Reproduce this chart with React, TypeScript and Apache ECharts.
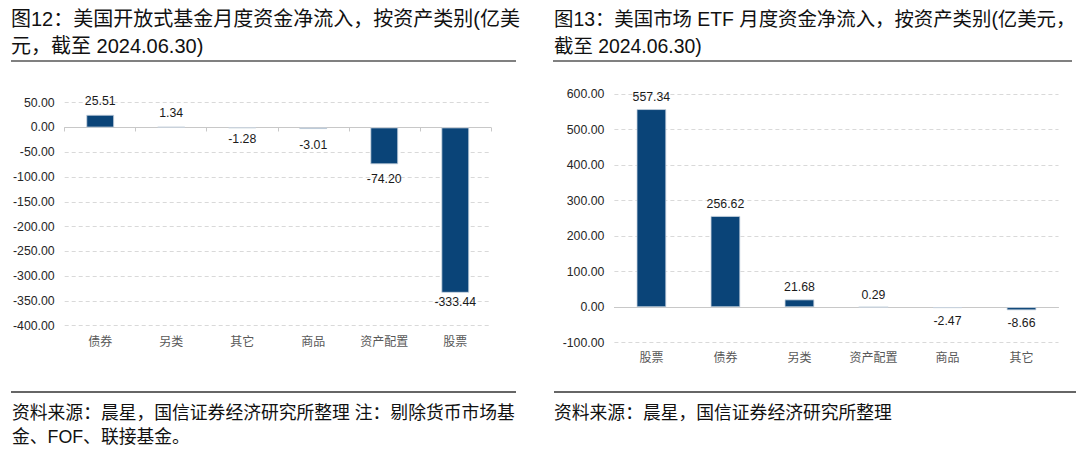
import React, { useEffect, useRef } from "react";
import * as echarts from "echarts";

// ---- Data ----
const leftCategories = ["债券", "另类", "其它", "商品", "资产配置", "股票"];
const leftValues = [25.51, 1.34, -1.28, -3.01, -74.2, -333.44];
const leftTicks = { min: -400, max: 50, interval: 50 };

const rightCategories = ["股票", "债券", "另类", "资产配置", "商品", "其它"];
const rightValues = [557.34, 256.62, 21.68, 0.29, -2.47, -8.66];
const rightTicks = { min: -100, max: 600, interval: 100 };

const leftTitle = ["图12：美国开放式基金月度资金净流入，按资产类别(亿美", "元，截至 2024.06.30)"];
const rightTitle = ["图13：美国市场 ETF 月度资金净流入，按资产类别(亿美元，", "截至 2024.06.30)"];
const leftSource = ["资料来源：晨星，国信证券经济研究所整理 注：剔除货币市场基", "金、FOF、联接基金。"];
const rightSource = ["资料来源：晨星，国信证券经济研究所整理"];

// label distances (style only)
const leftLabelDist = [8, 8, 5, 10, 9, 3];
const rightLabelDist = [6, 6, 6, 6, 7, 7];

const BAR = "#0a4478";
const LATIN_CJK = '"Liberation Sans", Arial, "Noto Sans CJK SC", sans-serif';

function buildSeriesData(values: number[], dists: number[]) {
  return values.map((v, i) => ({
    value: v,
    label: { position: v >= 0 ? "top" : "bottom", distance: dists[i] },
  }));
}

function yAxis(gridIndex: number, t: { min: number; max: number; interval: number }) {
  return {
    type: "value",
    gridIndex,
    min: t.min,
    max: t.max,
    interval: t.interval,
    axisLine: { show: false },
    axisTick: { show: false },
    axisLabel: {
      formatter: (v: number) => v.toFixed(2),
      fontSize: 12.3,
      fontFamily: LATIN_CJK,
      color: "#262626",
      margin: 10,
    },
    splitLine: { lineStyle: { color: "#d9d9d9", type: [4, 3], width: 1 } },
  };
}

function xAxes(gridIndex: number, cats: string[], margin: number, ticks: boolean) {
  return [
    {
      type: "category",
      gridIndex,
      data: cats,
      position: "bottom",
      axisLine: { show: false, onZero: false },
      axisTick: { show: false },
      axisLabel: {
        fontSize: 12,
        fontFamily: '"Noto Sans CJK SC", sans-serif',
        color: "#595959",
        margin,
      },
    },
    {
      type: "category",
      gridIndex,
      data: cats,
      position: "top",
      axisLine: { show: true, onZero: true, lineStyle: { color: "#c8c8c8", width: 1 } },
      axisTick: { show: ticks, inside: true, length: 4, lineStyle: { color: "#c8c8c8" } },
      axisLabel: { show: false },
    },
  ];
}

function textLines(lines: string[], x: number, y0: number, dy: number, size: number, color: string) {
  return lines.map((t, i) => ({
    type: "text",
    x,
    y: y0 + i * dy,
    silent: true,
    style: {
      text: t,
      fontSize: size,
      fontFamily: LATIN_CJK,
      fill: color,
      textAlign: "left",
      textVerticalAlign: "middle",
      verticalAlign: "middle",
    },
  }));
}

export default function App() {
  const ref = useRef<HTMLDivElement>(null);
  useEffect(() => {
    if (!ref.current) return;
    const chart = echarts.init(ref.current, undefined, { renderer: "svg" });
    const labelCommon = {
      show: true,
      formatter: (p: any) => Number(p.value).toFixed(2),
      fontSize: 12.3,
      fontFamily: LATIN_CJK,
      color: "#1a1a1a",
    };
    chart.setOption({
      animation: false,
      backgroundColor: "#ffffff",
      grid: [
        { left: 64.7, right: 1080 - 490.8, top: 102.7, bottom: 459 - 325.7, containLabel: false },
        { left: 614.4, right: 1080 - 1058.5, top: 94, bottom: 459 - 342.7, containLabel: false },
      ],
      xAxis: [...xAxes(0, leftCategories, 9, true), ...xAxes(1, rightCategories, 8, false)],
      yAxis: [yAxis(0, leftTicks), yAxis(1, rightTicks)],
      series: [
        {
          type: "bar",
          xAxisIndex: 0,
          yAxisIndex: 0,
          barWidth: "39%",
          data: buildSeriesData(leftValues, leftLabelDist),
          itemStyle: { color: BAR, borderColor: "#c9d4df", borderWidth: 0.8 },
          label: labelCommon,
        },
        {
          type: "bar",
          xAxisIndex: 2,
          yAxisIndex: 1,
          barWidth: "40%",
          data: buildSeriesData(rightValues, rightLabelDist),
          itemStyle: { color: BAR, borderColor: "#c9d4df", borderWidth: 0.8 },
          label: labelCommon,
        },
      ],
      graphic: [
        ...textLines(leftTitle, 11, 19, 27, 20, "#111111"),
        ...textLines(rightTitle, 554, 19, 27, 19.4, "#111111"),
        { type: "line", shape: { x1: 11, y1: 61, x2: 516, y2: 61 }, style: { stroke: "#808080", lineWidth: 2 } },
        { type: "line", shape: { x1: 553, y1: 61, x2: 1072, y2: 61 }, style: { stroke: "#808080", lineWidth: 2 } },
        { type: "line", shape: { x1: 11, y1: 392, x2: 516, y2: 392 }, style: { stroke: "#333333", lineWidth: 1.5 } },
        { type: "line", shape: { x1: 554, y1: 392, x2: 1076, y2: 392 }, style: { stroke: "#333333", lineWidth: 1.5 } },
        ...textLines(leftSource, 12, 412.5, 24, 17.8, "#111111"),
        ...textLines(rightSource, 554, 412.5, 24, 17.8, "#111111"),
      ],
    });
    return () => chart.dispose();
  }, []);
  return (
    <div
      ref={ref}
      style={{ position: "absolute", left: 0, top: 0, width: 1080, height: 459, background: "#fff" }}
    />
  );
}
